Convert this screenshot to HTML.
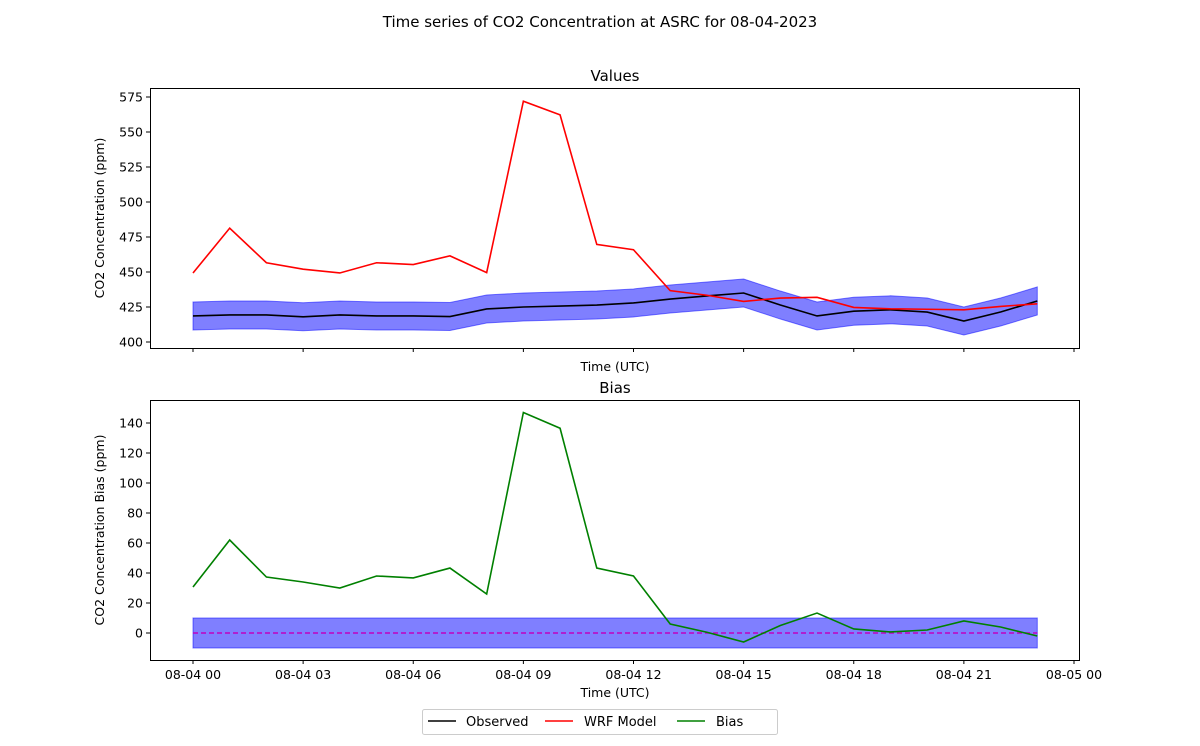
<!DOCTYPE html>
<html><head><meta charset="utf-8">
<style>
body{margin:0;background:#fff;font-family:"Liberation Sans","DejaVu Sans",sans-serif;}
svg text{font-family:"DejaVu Sans","Liberation Sans",sans-serif;}
</style></head>
<body>
<svg id="chart" width="1200" height="741" viewBox="0 0 1200 741" xmlns="http://www.w3.org/2000/svg">
<text x="600" y="27" font-size="15" text-anchor="middle">Time series of CO2 Concentration at ASRC for 08-04-2023</text>
<g id="top"></g>
<g id="bot"></g>
<g>
<rect x="422.5" y="709.5" width="355" height="25" fill="#fff" stroke="#ccc" rx="2"/>
<line x1="428" y1="721" x2="456" y2="721" stroke="#000" stroke-width="1.5"/>
<text x="466" y="726" font-size="13">Observed</text>
<line x1="545" y1="721" x2="573" y2="721" stroke="red" stroke-width="1.5"/>
<text x="584" y="726" font-size="13">WRF Model</text>
<line x1="677" y1="721" x2="705" y2="721" stroke="green" stroke-width="1.5"/>
<text x="716" y="726" font-size="13">Bias</text>
</g>
</svg>
<script>
const hours=[0,1,2,3,4,5,6,7,8,9,10,11,12,13,14,15,16,17,18,19,20,21,22,23];
const observed=[418.6,419.3,419.3,418,419.3,418.6,418.6,418.2,423.6,425,425.7,426.4,427.9,430.7,432.9,435,426.4,418.6,422,423,421.4,415,421.4,429.3];
const bias=[30.7,62,37.3,34,30,38,36.7,43.3,26,147,136.5,43.3,38,6,0.5,-6,5,13.3,2.7,0.7,2,8,4,-2];
const wrf=observed.map((o,i)=>o+bias[i]);
const obsUncert=10;
const topTicks=[400,425,450,475,500,525,550,575];
const botTicks=[0,20,40,60,80,100,120,140];
const xTickHours=[0,3,6,9,12,15,18,21,24];
const xTickLabels=["08-04 00","08-04 03","08-04 06","08-04 09","08-04 12","08-04 15","08-04 18","08-04 21","08-05 00"];
const NS="http://www.w3.org/2000/svg";
function mk(p,t,a){const e=document.createElementNS(NS,t);for(const k in a)e.setAttribute(k,a[k]);p.appendChild(e);return e;}
const X=h=>193+h*(881/24);
function panel(g,top,ymin,ymax,ticks,title,ylabel,showX){
  const L=150,R=1080,T=top,B=top+260;
  const Y=v=>B-6-(v-ymin)/(ymax-ymin)*(248);
  return {L,R,T,B,Y};
}
// top panel
const tg=document.getElementById('top'),bg=document.getElementById('bot');
const Yt=v=>342-(v-400)*1.4;
const Yb=v=>633-v*1.5;
function axes(g,T,B,Y,ticks,title,ylabel,showLabels){
  // ticks
  ticks.forEach(t=>{const y=Y(t);
    const l=mk(g,'line',{x1:146,y1:y,x2:150,y2:y,stroke:'#000'});
    
    
    const tx=mk(g,'text',{x:143,y:y+4.5,'font-size':12.5,'text-anchor':'end'});tx.textContent=t;
    
    });
  xTickHours.forEach((h,i)=>{const x=X(h);
    const l=mk(g,'line',{x1:x,y1:B,x2:x,y2:B+4,stroke:'#000'});
    
    
    if(showLabels){const tx=mk(g,'text',{x:x,y:B+19,'font-size':12.5,'text-anchor':'middle'});tx.textContent=xTickLabels[i];
      
      }});
  const r=mk(g,'rect',{x:150.5,y:T+0.5,width:929,height:B-T,fill:'none',stroke:'#000'});
  
  
  const tt=mk(g,'text',{x:615,y:T-7,'font-size':15,'text-anchor':'middle'});tt.textContent=title;
  
  
  const yl=mk(g,'text',{x:0,y:0,'font-size':12.5,'text-anchor':'middle',transform:`translate(104,${(T+B)/2}) rotate(-90)`});yl.textContent=ylabel;
  
  
  const xl=mk(g,'text',{x:615,y:B+23+(showLabels?14:0),'font-size':12.5,'text-anchor':'middle'});xl.textContent='Time (UTC)';
  
  
}
function line(g,vals,Y,color,name){
  const p=mk(g,'polyline',{points:vals.map((v,i)=>X(hours[i])+','+Y(v)).join(' '),fill:'none',stroke:color,'stroke-width':1.6});
  
  
}
// top band
const up=observed.map((o,i)=>X(hours[i])+','+Yt(o+obsUncert)).join(' ');
const dn=observed.map((o,i)=>X(hours[i])+','+Yt(o-obsUncert)).reverse().join(' ');
const band=mk(tg,'polygon',{points:up+' '+dn,fill:'rgba(0,0,255,0.5)',stroke:'rgba(0,0,255,0.5)'});


line(tg,observed,Yt,'#000','observed-line');
line(tg,wrf,Yt,'red','wrf-model-line');
axes(tg,88,348,Yt,topTicks,'Values','CO2 Concentration (ppm)',false);
// bottom
const bb=mk(bg,'rect',{x:X(0),y:Yb(obsUncert),width:X(23)-X(0),height:Yb(-obsUncert)-Yb(obsUncert),fill:'rgba(0,0,255,0.5)',stroke:'rgba(0,0,255,0.5)'});


const zl=mk(bg,'line',{x1:X(0),y1:Yb(0),x2:X(23),y2:Yb(0),stroke:'#c000c0','stroke-width':1.5,'stroke-dasharray':'5,3'});


line(bg,bias,Yb,'green','bias-line');
axes(bg,400,660,Yb,botTicks,'Bias','CO2 Concentration Bias (ppm)',true);
</script>
</body></html>
